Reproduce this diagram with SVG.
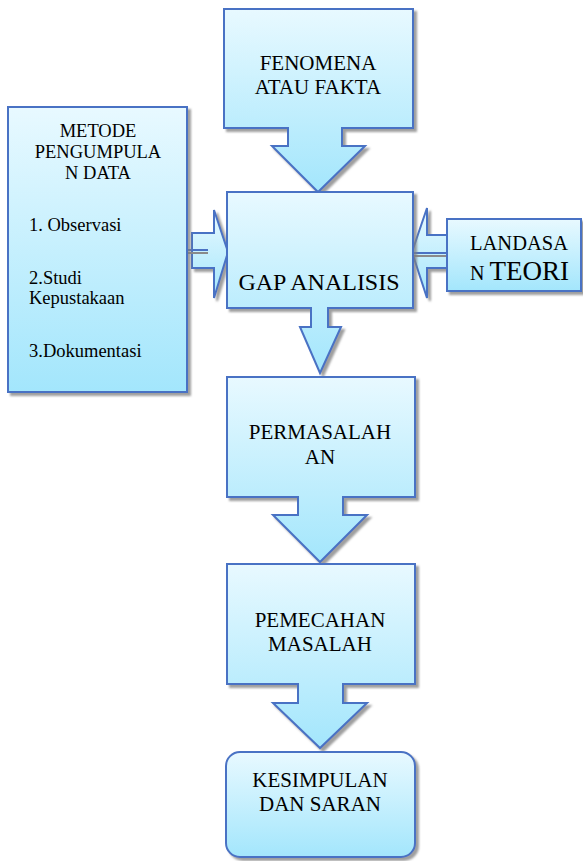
<svg xmlns="http://www.w3.org/2000/svg" width="583" height="861" viewBox="0 0 583 861">
<defs>
<linearGradient id="g" x1="0" y1="0" x2="0" y2="1">
<stop offset="0" stop-color="#e8f9ff"/>
<stop offset="1" stop-color="#a3e6fc"/>
</linearGradient>
<filter id="sh" x="-10%" y="-10%" width="130%" height="130%">
<feDropShadow dx="3" dy="3" stdDeviation="0.8" flood-color="#7f7f7f" flood-opacity="0.75"/>
</filter>
</defs>
<style>
.s{fill:url(#g);stroke:#4a72c4;stroke-width:2;filter:url(#sh);stroke-linejoin:miter}
text{fill:#000}
.c{text-anchor:middle}
.l{stroke:#4a72c4;stroke-width:2;fill:none}
.lg{stroke:#8a8a8a;stroke-width:2;fill:none}
</style>
<g id="connectors">
<path class="s" d="M192,233 H214 V210 L228,252 L214,298 V268 H192 Z"/>
<line class="lg" x1="188" y1="253" x2="208" y2="253"/>
<line class="l" x1="187" y1="250" x2="208" y2="250"/>
<path class="s" d="M447,235 H427 V208 L412,252 L427,298 V268 H447 Z"/>
<line class="lg" x1="414" y1="256" x2="447" y2="256"/>
<line class="l" x1="412" y1="253" x2="447" y2="253"/>
</g>
<g font-family="Liberation Serif, Times New Roman, serif">
<g id="fenomena">
<path class="s" d="M224,9 H413 V128 H342 V146 H365 L318,192 L272,146 H288 V128 H224 Z"/>
<text class="c" x="318" y="70" font-size="21">FENOMENA</text>
<text class="c" x="318" y="94" font-size="21">ATAU FAKTA</text>
</g>
<g id="metode">
<rect class="s" x="8" y="107" width="179" height="285"/>
<text class="c" x="98" y="137" font-size="18.5">METODE</text>
<text class="c" x="98" y="158" font-size="18.5">PENGUMPULA</text>
<text class="c" x="98" y="179" font-size="18.5">N DATA</text>
<text x="29" y="231" font-size="18.5">1. Observasi</text>
<text x="29" y="284" font-size="18.5">2.Studi</text>
<text x="29" y="304" font-size="18.5">Kepustakaan</text>
<text x="29" y="357" font-size="18.5">3.Dokumentasi</text>
</g>
<g id="landasan">
<rect class="s" x="447" y="219" width="134" height="72"/>
<text x="470" y="250" font-size="20.5">LANDASA</text>
<text x="470" y="280"><tspan font-size="20">N </tspan><tspan font-size="27">TEORI</tspan></text>
</g>
<g id="gap">
<path class="s" d="M227,192 H413 V308 H328 V327 H341 L320,373 L300,327 H311 V308 H227 Z"/>
<text class="c" x="319" y="290" font-size="24">GAP ANALISIS</text>
</g>
<g id="permasalahan">
<path class="s" d="M227,377 H415 V497 H343 V515 H367 L320,562 L273,515 H298 V497 H227 Z"/>
<text class="c" x="320" y="439" font-size="21">PERMASALAH</text>
<text class="c" x="320" y="464" font-size="21">AN</text>
</g>
<g id="pemecahan">
<path class="s" d="M227,564 H415 V684 H343 V703 H367 L320,748 L273,703 H298 V684 H227 Z"/>
<text class="c" x="320" y="627" font-size="21">PEMECAHAN</text>
<text class="c" x="320" y="651" font-size="21">MASALAH</text>
</g>
<g id="kesimpulan">
<rect class="s" x="226" y="752" width="189" height="105" rx="14"/>
<text class="c" x="320" y="787" font-size="21">KESIMPULAN</text>
<text class="c" x="320" y="811" font-size="21">DAN SARAN</text>
</g>
</g>
</svg>
